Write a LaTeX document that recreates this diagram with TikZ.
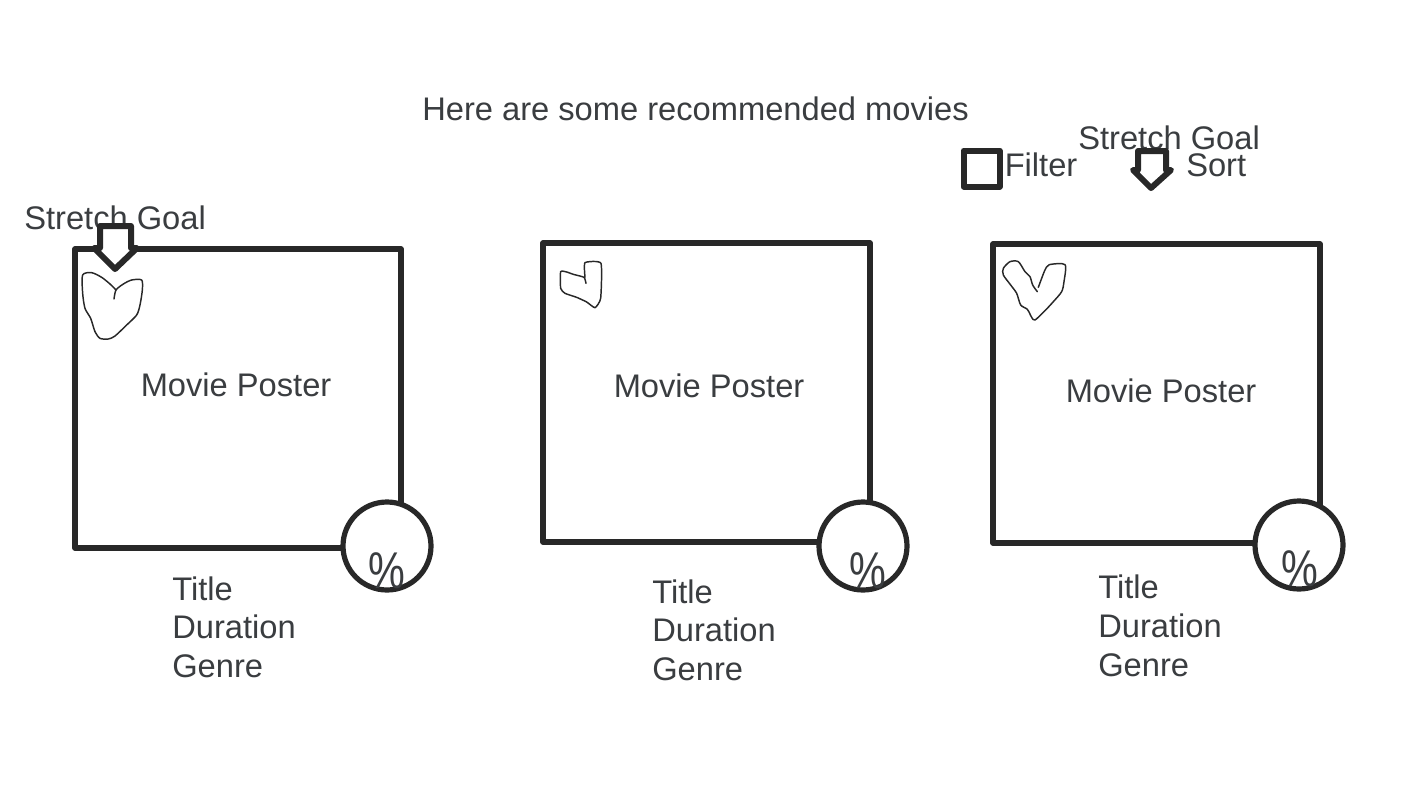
\documentclass[tikz,border=0pt]{standalone}
\usepackage{fontspec}
\setmainfont{Liberation Sans}
\definecolor{ink}{HTML}{282828}
\definecolor{txt}{HTML}{3A3D40}
\tikzset{
  label text/.style={anchor=base west,inner sep=0pt,text=txt,font=\fontsize{24.5pt}{29pt}\selectfont},
  pct text/.style={anchor=center,inner sep=0pt,text=txt,yscale=1.25,font=\fontsize{31pt}{36pt}\selectfont},
  frame/.style={draw=ink,line width=3.8pt,line join=round,line cap=round},
  heavy/.style={draw=ink,line width=4.5pt,line join=round,line cap=round},
  badge/.style={draw=ink,line width=3.9pt,fill=white},
  heart/.style={draw=ink,line width=1.1pt,line join=round,line cap=round},
}
\begin{document}
\begin{tikzpicture}[x=0.75pt,y=-0.75pt]
\useasboundingbox (0,0) rectangle (1422,800);
\fill[white] (0,0) rectangle (1422,800);
% text
\node[label text] (head) at (422,120) {Here are some recommended movies};
\node[label text] (sg1) at (24,229) {Stretch Goal};
\node[label text] (sg2) at (1078,149) {Stretch Goal};
\node[label text] (filt) at (1004.5,176) {Filter};
\node[label text] (sort) at (1186,176) {Sort};
% frames
\draw[frame] (75,249) rectangle (401,548);
\draw[frame] (543,243) rectangle (870,542);
\draw[frame] (993,244) rectangle (1320,543);
\draw[heavy] (963.5,150.5) rectangle (999.5,186.5);
% arrows
\draw[heavy,fill=white] (100,226) -- (131,226) -- (131,248) -- (137,248) -- (115,269) -- (94,248) -- (100,248) -- cycle;
\draw[heavy,fill=white] (1138,151) -- (1166,151) -- (1166,170) -- (1171,170) -- (1151,188) -- (1133,170) -- (1138,170) -- cycle;
% badges
\node[badge,circle,minimum size=66pt,inner sep=0pt] (c1) at (387,546) {};
\node[badge,circle,minimum size=66pt,inner sep=0pt] (c2) at (863,546) {};
\node[badge,circle,minimum size=66pt,inner sep=0pt] (c3) at (1299,545) {};
\node[pct text] (p1) at (387,571) {\%};
\node[pct text] (p2) at (868,571) {\%};
\node[pct text] (p3) at (1300,569) {\%};
% labels
\node[label text] (m1) at (140.5,396) {Movie Poster};
\node[label text] (m2) at (613.5,397) {Movie Poster};
\node[label text] (m3) at (1065.5,402) {Movie Poster};
\node[label text] (t1) at (172,600) {Title};
\node[label text] (d1) at (172,638) {Duration};
\node[label text] (g1) at (172,677) {Genre};
\node[label text] (t2) at (652,603) {Title};
\node[label text] (d2) at (652,641) {Duration};
\node[label text] (g2) at (652,680) {Genre};
\node[label text] (t3) at (1098,598.5) {Title};
\node[label text] (d3) at (1098,637) {Duration};
\node[label text] (g3) at (1098,676) {Genre};
% hand-drawn hearts
\begin{scope}[shift={(20,190)},x=0.25pt,y=-0.25pt]
\draw[heart] plot[smooth,tension=0.45] coordinates {(282,327) (288,300) (310,282) (335,270) (365,270) (367,300) (360,345) (350,375) (320,405) (285,438) (265,447) (240,445) (225,425) (212,385) (195,355) (188,310) (188,255) (215,248) (245,262) (270,282) (288,300)};
\end{scope}
\begin{scope}[shift={(540,240)},x=0.25pt,y=-0.25pt]
\draw[heart] plot[smooth,tension=0.3] coordinates {(138,130) (132,112) (100,103) (80,96) (62,95) (62,145) (75,160) (110,172) (140,186) (165,203) (182,175) (183,70) (135,68) (135,112)};
\end{scope}
\begin{scope}[shift={(990,240)},x=0.25pt,y=-0.25pt]
\draw[heart] plot[smooth,tension=0.45] coordinates {(145,142) (155,115) (165,90) (178,74) (225,74) (222,125) (215,155) (190,185) (165,212) (135,240) (125,232) (112,208) (92,195) (80,160) (62,135) (40,105) (40,85) (60,65) (85,65) (105,95) (120,110) (128,135) (142,155)};
\end{scope}
\end{tikzpicture}
\end{document}
